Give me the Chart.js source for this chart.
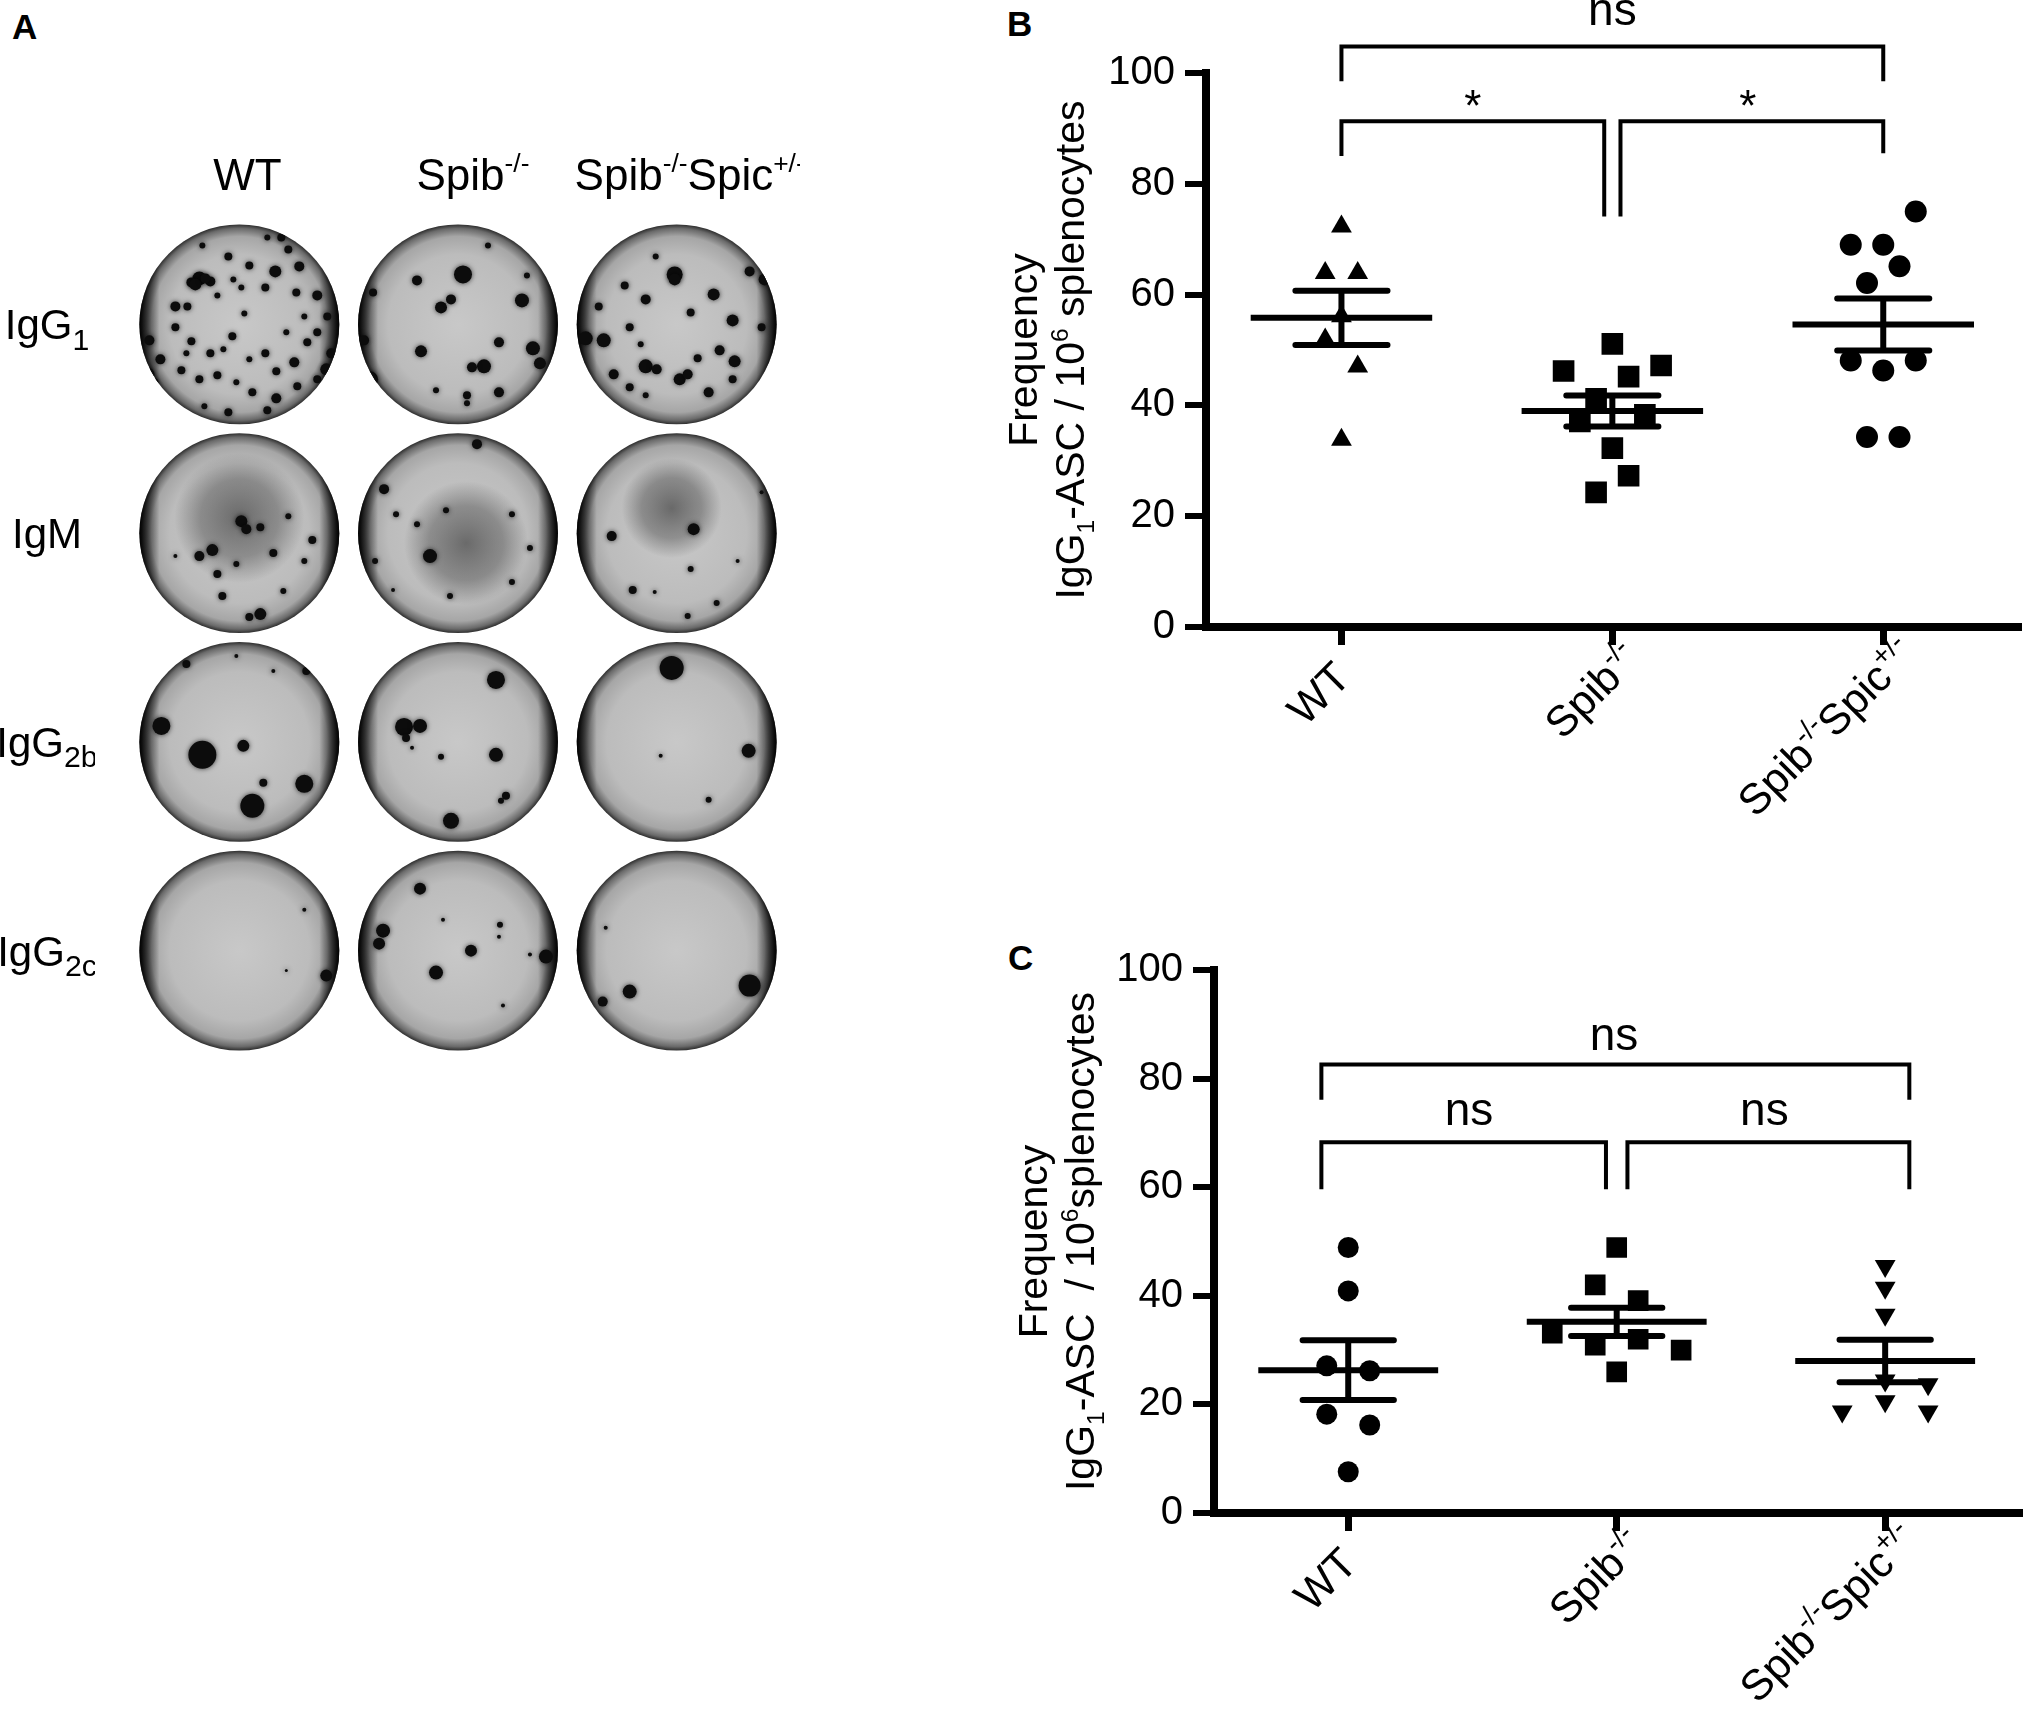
<!DOCTYPE html>
<html>
<head>
<meta charset="utf-8">
<title>IgG1-ASC frequency</title>
<script src="https://cdn.jsdelivr.net/npm/chart.js@4.4.1/dist/chart.umd.min.js"></script>
<style>
  body { margin: 0; background: #fff; width: 2034px; height: 1728px; position: relative; overflow: hidden;
         font-family: "Liberation Sans", Arial, sans-serif; }
  canvas { position: absolute; }
  .letter { position: absolute; font-weight: bold; font-size: 35px; line-height: 1; }
</style>
</head>
<body>
<div class="letter" style="left:12px; top:9px">A</div>
<div class="letter" style="left:1007px; top:6px">B</div>
<div class="letter" style="left:1008px; top:940px">C</div>

<canvas id="wells" width="800" height="1080" style="left:0; top:0"></canvas>
<canvas id="chartB" width="1074" height="880" style="left:960px; top:0"></canvas>
<canvas id="chartC" width="1074" height="828" style="left:960px; top:900px"></canvas>

<script>
const FONT = '"Liberation Sans", Arial, sans-serif';

// group labels (text segments, k = sup / sub)
const groupLabels = [
    [{ t: 'WT' }],
    [{ t: 'Spib' }, { t: '-/-', k: 'sup' }],
    [{ t: 'Spib' }, { t: '-/-', k: 'sup' }, { t: 'Spic' }, { t: '+/-', k: 'sup' }]
];
const yTicks = [0, 20, 40, 60, 80, 100];

// Panel B: IgG1-ASC per 10^6 splenocytes
const bWtValues = [72.3, 63.9, 63.9, 56.1, 51.9, 47.0, 33.8];
const bWtOffsets = [0, -0.06, 0.06, 0, -0.06, 0.06, 0];
const bSpibValues = [51.1, 46.2, 47.2, 45.2, 41.2, 38.3, 37.1, 32.3, 27.3, 24.3];
const bSpibOffsets = [0, -0.18, 0.18, 0.06, -0.06, 0.12, -0.12, 0, 0.06, -0.06];
const bDkoValues = [75.0, 69.0, 69.0, 65.1, 62.1, 48.1, 46.3, 48.1, 34.3, 34.3];
const bDkoOffsets = [0.12, -0.12, 0, 0.06, -0.06, -0.12, 0, 0.12, -0.06, 0.06];
const bMeans = [55.8, 39.0, 54.6];
const bSems = [4.9, 2.8, 4.7];
// brackets: [from, to, top, left leg end, right leg end]
const bBrackets = [[0, 2, 104.8, 98.5, 98.5], [0, 0.97, 91.3, 85.0, 74.1], [1.03, 2, 91.3, 74.1, 85.5]];
const bNotes = [['ns', 1, 108.7], ['*', 0.485, 91.4], ['*', 1.5, 91.4]];
const bTitle = [
    [{ t: 'Frequency' }],
    [{ t: 'IgG' }, { t: '1', k: 'sub' }, { t: '-ASC / 10' }, { t: '6', k: 'sup' }, { t: ' splenocytes' }]
];

// Panel C
const cWtValues = [48.9, 40.9, 27.1, 26.2, 18.2, 16.2, 7.6];
const cWtOffsets = [0, 0, -0.08, 0.08, -0.08, 0.08, 0];
const cSpibValues = [48.9, 42.0, 39.1, 33.1, 30.9, 32.0, 30.0, 26.0];
const cSpibOffsets = [0, -0.08, 0.08, -0.24, -0.08, 0.08, 0.24, 0];
const cDkoValues = [45.5, 41.5, 36.5, 24.4, 23.7, 20.6, 18.7, 18.7];
const cDkoOffsets = [0, 0, 0, 0, 0.16, 0, -0.16, 0.16];
const cMeans = [26.3, 35.2, 28.0];
const cSems = [5.5, 2.6, 3.9];
const cBrackets = [[-0.1, 2.09, 82.6, 76.1, 76.1], [-0.1, 0.96, 68.3, 59.6, 59.6], [1.04, 2.09, 68.3, 59.6, 59.6]];
const cNotes = [['ns', 0.99, 85.3], ['ns', 0.45, 71.5], ['ns', 1.55, 71.5]];
const cTitle = [
    [{ t: 'Frequency' }],
    [{ t: 'IgG' }, { t: '1', k: 'sub' }, { t: '-ASC  / 10' }, { t: '6', k: 'sup' }, { t: 'splenocytes' }]
];

// Panel A: ELISPOT wells, spots as [dx, dy, size] relative to the well radius
const rowLabels = [
    [{ t: 'IgG' }, { t: '1', k: 'sub' }],
    [{ t: 'IgM' }],
    [{ t: 'IgG' }, { t: '2b', k: 'sub' }],
    [{ t: 'IgG' }, { t: '2c', k: 'sub' }]
];
const spotsIgG1Wt = [
    [-0.40, -0.46, 0.07], [-0.48, -0.42, 0.05], [-0.29, -0.43, 0.05], [-0.11, -0.68, 0.04], [0.10, -0.59, 0.04],
    [0.36, -0.53, 0.06], [0.49, -0.75, 0.04], [0.28, -0.87, 0.03], [-0.37, -0.79, 0.03], [-0.06, -0.45, 0.03],
    [-0.64, -0.18, 0.05], [-0.52, -0.18, 0.04], [-0.22, -0.29, 0.03], [0.02, -0.37, 0.03], [0.26, -0.37, 0.04],
    [0.57, -0.32, 0.04], [0.78, -0.29, 0.05], [-0.64, 0.03, 0.04], [-0.48, 0.17, 0.04], [-0.29, 0.29, 0.04],
    [-0.16, 0.25, 0.03], [-0.07, 0.12, 0.04], [0.10, 0.35, 0.03], [0.26, 0.29, 0.04], [0.37, 0.47, 0.04],
    [0.55, 0.38, 0.05], [0.68, 0.18, 0.04], [0.78, 0.08, 0.04], [-0.58, 0.46, 0.04], [-0.40, 0.55, 0.04],
    [-0.22, 0.51, 0.04], [-0.03, 0.58, 0.03], [0.13, 0.68, 0.04], [0.37, 0.74, 0.05], [0.58, 0.62, 0.04],
    [0.78, 0.55, 0.04], [-0.79, 0.35, 0.05], [-0.85, 0.58, 0.04], [-0.90, 0.16, 0.05], [0.88, -0.08, 0.04],
    [0.92, 0.29, 0.05], [-0.77, 0.76, 0.04], [-0.35, 0.82, 0.03], [-0.11, 0.88, 0.04], [0.28, 0.86, 0.04],
    [0.42, -0.87, 0.04], [0.05, -0.11, 0.03], [0.65, -0.08, 0.03], [0.47, 0.08, 0.03], [-0.53, 0.29, 0.03],
    [-0.44, -0.40, 0.06], [-0.34, -0.46, 0.05], [0.60, -0.58, 0.05], [0.87, 0.45, 0.06], [-0.92, 0.50, 0.07]
];
const spotsIgG1Spib = [
    [0.05, -0.50, 0.09], [-0.17, -0.17, 0.06], [-0.07, -0.25, 0.05], [-0.41, -0.44, 0.05], [-0.85, -0.32, 0.04],
    [0.30, -0.79, 0.03], [0.69, -0.49, 0.03], [0.64, -0.24, 0.07], [0.41, 0.18, 0.05], [0.75, 0.24, 0.07],
    [0.82, 0.39, 0.06], [-0.37, 0.27, 0.06], [0.26, 0.42, 0.07], [0.14, 0.43, 0.05], [0.09, 0.71, 0.04],
    [0.41, 0.68, 0.05], [0.93, 0.61, 0.04], [-0.22, 0.66, 0.03], [-0.94, 0.16, 0.05], [0.09, 0.79, 0.03],
    [-0.88, 0.55, 0.08]
];
const spotsIgG1Dko = [
    [-0.02, -0.50, 0.08], [-0.21, -0.68, 0.03], [-0.52, -0.39, 0.04], [-0.31, -0.25, 0.05], [-0.78, -0.18, 0.04],
    [0.37, -0.30, 0.06], [0.14, -0.12, 0.04], [0.56, -0.04, 0.06], [0.73, -0.53, 0.05], [-0.91, 0.14, 0.07],
    [-0.73, 0.16, 0.07], [-0.47, 0.03, 0.04], [-0.36, 0.20, 0.03], [0.43, 0.26, 0.05], [0.58, 0.37, 0.06],
    [0.21, 0.34, 0.04], [-0.31, 0.42, 0.07], [-0.20, 0.45, 0.05], [-0.63, 0.50, 0.05], [-0.47, 0.63, 0.04],
    [0.03, 0.55, 0.06], [0.11, 0.50, 0.05], [0.32, 0.68, 0.05], [0.56, 0.55, 0.04], [0.85, 0.03, 0.04],
    [-0.31, 0.71, 0.03], [0.88, -0.45, 0.06], [-0.02, -0.45, 0.06]
];
const spotsIgMWt = [
    [0.02, -0.12, 0.06], [0.07, -0.04, 0.05], [-0.27, 0.17, 0.06], [-0.40, 0.23, 0.05], [0.21, -0.06, 0.04],
    [0.34, 0.20, 0.04], [0.49, -0.17, 0.03], [0.73, 0.07, 0.04], [0.65, 0.28, 0.03], [-0.22, 0.41, 0.04],
    [-0.17, 0.63, 0.04], [-0.03, 0.31, 0.03], [0.44, 0.58, 0.03], [0.21, 0.81, 0.06], [0.10, 0.84, 0.04],
    [-0.64, 0.23, 0.02]
];
const spotsIgMSpib = [
    [-0.28, 0.23, 0.07], [0.19, -0.89, 0.05], [-0.74, -0.44, 0.05], [-0.62, -0.19, 0.03], [-0.12, -0.23, 0.03],
    [0.54, -0.19, 0.03], [0.54, 0.49, 0.03], [-0.08, 0.63, 0.03], [-0.83, 0.28, 0.03], [-0.41, -0.09, 0.03],
    [0.72, 0.15, 0.03], [-0.65, 0.57, 0.02]
];
const spotsIgMDko = [
    [-0.65, 0.03, 0.05], [0.17, -0.04, 0.06], [-0.44, 0.57, 0.04], [-0.22, 0.59, 0.02], [0.11, 0.83, 0.03],
    [0.40, 0.70, 0.03], [0.61, 0.28, 0.02], [0.85, -0.41, 0.02], [0.14, 0.36, 0.03]
];
const spotsIgG2bWt = [
    [-0.78, -0.16, 0.09], [-0.37, 0.13, 0.14], [0.04, 0.04, 0.06], [0.13, 0.64, 0.12], [0.24, 0.41, 0.04],
    [0.65, 0.42, 0.09], [-0.53, -0.78, 0.04], [0.67, -0.71, 0.04], [0.34, -0.71, 0.02], [-0.03, -0.86, 0.02]
];
const spotsIgG2bSpib = [
    [-0.54, -0.15, 0.09], [-0.38, -0.16, 0.07], [-0.52, -0.04, 0.04], [0.38, -0.62, 0.09], [0.38, 0.13, 0.07],
    [-0.07, 0.79, 0.08], [0.48, 0.54, 0.04], [0.43, 0.59, 0.03], [-0.17, 0.15, 0.03], [-0.46, 0.06, 0.02]
];
const spotsIgG2bDko = [[-0.05, -0.74, 0.12], [0.72, 0.09, 0.07], [0.32, 0.58, 0.03], [-0.16, 0.14, 0.02]];
const spotsIgG2cWt = [[0.87, 0.25, 0.06], [0.65, -0.41, 0.02], [0.47, 0.20, 0.015]];
const spotsIgG2cSpib = [
    [-0.38, -0.62, 0.06], [-0.75, -0.20, 0.07], [-0.79, -0.07, 0.06], [0.13, 0.00, 0.06], [-0.22, 0.22, 0.07],
    [0.42, -0.26, 0.03], [0.41, -0.14, 0.02], [0.88, 0.06, 0.07], [-0.15, -0.31, 0.02], [0.45, 0.55, 0.02],
    [0.72, 0.04, 0.02]
];
const spotsIgG2cDko = [[-0.47, 0.41, 0.07], [-0.74, 0.51, 0.05], [0.73, 0.35, 0.11], [-0.71, -0.23, 0.02]];
// diffuse dark staining in IgM wells: [column, dx, dy, size, alpha]
const hazeIgM = [[0, 0.0, -0.15, 0.65, 0.6], [1, 0.08, 0.1, 0.62, 0.6], [2, -0.05, -0.25, 0.5, 0.6]];

const wellSpots = [
    [spotsIgG1Wt, spotsIgG1Spib, spotsIgG1Dko],
    [spotsIgMWt, spotsIgMSpib, spotsIgMDko],
    [spotsIgG2bWt, spotsIgG2bSpib, spotsIgG2bDko],
    [spotsIgG2cWt, spotsIgG2cSpib, spotsIgG2cDko]
];

Chart.defaults.font.family = FONT;
Chart.defaults.color = '#000';

// width of a run of segments
function richWidth(ctx, segs, size, small) {
    let w = 0;
    segs.forEach(s => {
        ctx.font = (s.k ? size * small : size) + 'px ' + FONT;
        w += ctx.measureText(s.t).width;
    });
    return w;
}

// draw text with sub/superscripts, y is the baseline
function drawRich(ctx, segs, x, y, size, align, small, hangSup) {
    small = small || 0.6;
    ctx.textAlign = 'left';
    ctx.textBaseline = 'alphabetic';
    let w = richWidth(ctx, segs, size, small);
    if (hangSup && segs[segs.length - 1].k === 'sup') {
        w = richWidth(ctx, segs.slice(0, -1), size, small);
    }
    let cx = align === 'right' ? x - w : align === 'center' ? x - w / 2 : x;
    segs.forEach(s => {
        ctx.font = (s.k ? size * small : size) + 'px ' + FONT;
        const dy = s.k === 'sup' ? -size * 0.4 : s.k === 'sub' ? size * 0.25 : 0;
        ctx.fillText(s.t, cx, y + dy);
        cx += ctx.measureText(s.t).width;
    });
}

// ---------- Panel A ----------
const WELL_PX = 100;
const WELL_R_X = 0.457;
const WELL_R_Y = 0.479;
const headerShift = [8, 15, 13];

const wellDatasets = [];
wellSpots.forEach((row, r) => {
    row.forEach((spots, c) => {
        wellDatasets.push({
            data: spots.map(s => ({ x: c + 0.5 + s[0] * WELL_R_X, y: r + 0.5 + s[1] * WELL_R_Y, r: s[2] * WELL_PX })),
            backgroundColor: '#0c0c0c',
            borderWidth: 0,
            hoverRadius: 0
        });
    });
});

const wellPlugin = {
    id: 'wells',
    beforeDatasetsDraw(chart) {
        const { ctx, scales: { x, y } } = chart;
        const rad = x.getPixelForValue(WELL_R_X) - x.getPixelForValue(0);
        ctx.save();
        for (let r = 0; r < 4; r++) {
            for (let c = 0; c < 3; c++) {
                const cx = x.getPixelForValue(c + 0.5), cy = y.getPixelForValue(r + 0.5);
                ctx.beginPath();
                ctx.arc(cx, cy, rad, 0, Math.PI * 2);
                const g = ctx.createRadialGradient(cx, cy, 0, cx, cy, rad);
                g.addColorStop(0, '#c8c8c8');
                g.addColorStop(0.7, '#bcbcbc');
                g.addColorStop(0.88, '#a6a6a6');
                g.addColorStop(0.96, '#6a6a6a');
                g.addColorStop(1, '#2e2e2e');
                ctx.fillStyle = g;
                ctx.fill();
                const lg = ctx.createLinearGradient(cx - rad, 0, cx + rad, 0);
                lg.addColorStop(0, 'rgba(0,0,0,0.95)');
                lg.addColorStop(0.1, 'rgba(0,0,0,0)');
                lg.addColorStop(0.9, 'rgba(0,0,0,0)');
                lg.addColorStop(1, 'rgba(0,0,0,0.95)');
                ctx.fillStyle = lg;
                ctx.fill();
            }
        }
        hazeIgM.forEach(h => {
            const wx = x.getPixelForValue(h[0] + 0.5), wy = y.getPixelForValue(1.5);
            const hx = wx + h[1] * rad, hy = wy + h[2] * rad, hr = h[3] * rad;
            const g = ctx.createRadialGradient(hx, hy, 0, hx, hy, hr);
            g.addColorStop(0, 'rgba(45,45,45,' + h[4] + ')');
            g.addColorStop(0.6, 'rgba(55,55,55,' + (h[4] * 0.65) + ')');
            g.addColorStop(1, 'rgba(60,60,60,0)');
            ctx.beginPath();
            ctx.arc(wx, wy, rad, 0, Math.PI * 2);
            ctx.fillStyle = g;
            ctx.fill();
        });
        ctx.restore();

        // keep the spots inside the wells, soften their edges
        ctx.save();
        ctx.beginPath();
        for (let r = 0; r < 4; r++) {
            for (let c = 0; c < 3; c++) {
                const cx = x.getPixelForValue(c + 0.5), cy = y.getPixelForValue(r + 0.5);
                ctx.moveTo(cx + rad, cy);
                ctx.arc(cx, cy, rad, 0, Math.PI * 2);
            }
        }
        ctx.clip();
        ctx.shadowColor = 'rgba(0,0,0,0.7)';
        ctx.shadowBlur = 5;
    },
    afterDatasetsDraw(chart) {
        const { ctx, scales: { x, y } } = chart;
        ctx.restore();
        ctx.save();
        ctx.fillStyle = '#000';
        groupLabels.forEach((segs, c) => {
            drawRich(ctx, segs, x.getPixelForValue(c + 0.5) + headerShift[c], 190, 44, 'center');
        });
        ctx.beginPath();
        ctx.rect(0, 0, 95, chart.height);
        ctx.clip();
        rowLabels.forEach((segs, r) => {
            drawRich(ctx, segs, 47, y.getPixelForValue(r + 0.5) + 15, 42, 'center', 0.72);
        });
        ctx.restore();
    }
};

new Chart(document.getElementById('wells'), {
    type: 'bubble',
    data: { datasets: wellDatasets },
    options: {
        responsive: false,
        animation: false,
        events: [],
        layout: { padding: { left: 130, right: 14, top: 220, bottom: 25 } },
        scales: {
            x: { type: 'linear', min: 0, max: 3, display: false },
            y: { type: 'linear', min: 0, max: 4, reverse: true, display: false }
        },
        plugins: { legend: { display: false }, tooltip: { enabled: false } }
    },
    plugins: [wellPlugin]
});

// ---------- Panels B and C ----------
function statsPlugin(p) {
    return {
        id: 'stats',
        afterDatasetsDraw(chart) {
            const { ctx, chartArea, scales: { x, y } } = chart;
            ctx.save();
            ctx.strokeStyle = '#000';
            ctx.fillStyle = '#000';

            // mean with SEM
            p.means.forEach((m, i) => {
                const cx = x.getPixelForValue(i);
                const half = x.getPixelForValue(i + 0.335) - cx;
                const cap = x.getPixelForValue(i + 0.17) - cx;
                const ym = y.getPixelForValue(m);
                const yt = y.getPixelForValue(m + p.sems[i]);
                const yb = y.getPixelForValue(m - p.sems[i]);
                ctx.lineWidth = 6;
                ctx.lineCap = 'butt';
                ctx.beginPath();
                ctx.moveTo(cx - half, ym); ctx.lineTo(cx + half, ym);
                ctx.moveTo(cx, yt); ctx.lineTo(cx, yb);
                ctx.stroke();
                ctx.lineCap = 'round';
                ctx.beginPath();
                ctx.moveTo(cx - cap, yt); ctx.lineTo(cx + cap, yt);
                ctx.moveTo(cx - cap, yb); ctx.lineTo(cx + cap, yb);
                ctx.stroke();
            });

            // significance brackets
            ctx.lineWidth = 4;
            ctx.lineCap = 'butt';
            ctx.lineJoin = 'miter';
            p.brackets.forEach(b => {
                const x1 = x.getPixelForValue(b[0]), x2 = x.getPixelForValue(b[1]);
                ctx.beginPath();
                ctx.moveTo(x1, y.getPixelForValue(b[3]));
                ctx.lineTo(x1, y.getPixelForValue(b[2]));
                ctx.lineTo(x2, y.getPixelForValue(b[2]));
                ctx.lineTo(x2, y.getPixelForValue(b[4]));
                ctx.stroke();
            });
            ctx.textAlign = 'center';
            ctx.textBaseline = 'alphabetic';
            p.notes.forEach(n => {
                ctx.font = (n[0] === '*' ? 44 : 46) + 'px ' + FONT;
                ctx.fillText(n[0], x.getPixelForValue(n[1]), y.getPixelForValue(n[2]));
            });

            // rotated group labels
            groupLabels.forEach((segs, i) => {
                ctx.save();
                ctx.translate(x.getPixelForValue(i) + 11, chartArea.bottom + 53);
                ctx.rotate(-Math.PI / 4);
                drawRich(ctx, segs, 0, 0, 43, 'right', 0.65, true);
                ctx.restore();
            });

            // y axis title, two lines
            const cy = (chartArea.top + chartArea.bottom) / 2;
            p.title.forEach((segs, k) => {
                ctx.save();
                ctx.translate(p.titleX[k], cy);
                ctx.rotate(-Math.PI / 2);
                drawRich(ctx, segs, 0, 10, 41, 'center');
                ctx.restore();
            });
            ctx.restore();
        }
    };
}

function makeSet(values, offsets, i, style, radius, rotation) {
    return {
        data: values.map((v, j) => ({ x: i + offsets[j], y: v })),
        pointStyle: style,
        pointRadius: radius,
        pointHoverRadius: radius,
        pointRotation: rotation || 0,
        pointBackgroundColor: '#000',
        pointBorderWidth: 0,
        showLine: false
    };
}

function dotPlot(id, datasets, axisWidth, axisHeight, top, right, extra) {
    return new Chart(document.getElementById(id), {
        type: 'scatter',
        data: { datasets: datasets },
        options: {
            responsive: false,
            animation: false,
            events: [],
            layout: { padding: { left: 0, right: right, top: top, bottom: 0 } },
            scales: {
                x: {
                    type: 'linear', min: -0.5, max: 2.5,
                    afterBuildTicks: s => { s.ticks = [0, 1, 2].map(v => ({ value: v })); },
                    afterFit: s => { s.height = axisHeight; },
                    ticks: { display: false },
                    grid: { drawOnChartArea: false, drawTicks: true, tickLength: 18, lineWidth: 7, color: '#000' },
                    border: { display: true, width: 8, color: '#000' }
                },
                y: {
                    min: 0, max: 100,
                    afterBuildTicks: s => { s.ticks = yTicks.map(v => ({ value: v })); },
                    afterFit: s => { s.width = axisWidth; },
                    ticks: { font: { size: 40 }, color: '#000', padding: 10 },
                    grid: { drawOnChartArea: false, drawTicks: true, tickLength: 21, lineWidth: 6, color: '#000' },
                    border: { display: true, width: 8, color: '#000' }
                }
            },
            plugins: { legend: { display: false }, tooltip: { enabled: false } }
        },
        plugins: [statsPlugin(extra)]
    });
}

dotPlot('chartB', [
    makeSet(bWtValues, bWtOffsets, 0, 'triangle', 12),
    makeSet(bSpibValues, bSpibOffsets, 1, 'rect', 15.3),
    makeSet(bDkoValues, bDkoOffsets, 2, 'circle', 11)
], 246, 253, 73, 6, {
    means: bMeans, sems: bSems, brackets: bBrackets, notes: bNotes, title: bTitle, titleX: [67, 114]
});

dotPlot('chartC', [
    makeSet(cWtValues, cWtOffsets, 0, 'circle', 10.5),
    makeSet(cSpibValues, cSpibOffsets, 1, 'rect', 14.6),
    makeSet(cDkoValues, cDkoOffsets, 2, 'triangle', 12, 180)
], 254, 215, 70, 7, {
    means: cMeans, sems: cSems, brackets: cBrackets, notes: cNotes, title: cTitle, titleX: [77, 124]
});
</script>
</body>
</html>
